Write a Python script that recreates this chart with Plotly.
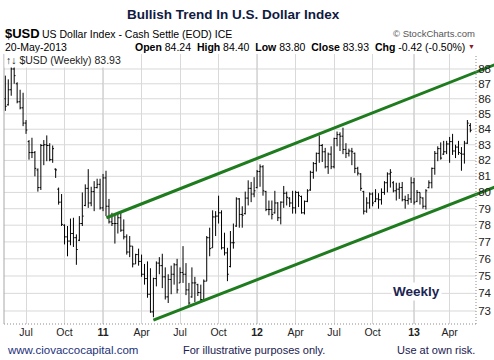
import plotly.graph_objects as go
import pandas as pd

# ---------------- data ----------------
first_week = "2010-05-17"   # weekly bars, Monday dated

opens = [
    86.0, 85.6, 86.6, 88.0, 87.0, 85.8, 85.4, 84.4, 83.2, 82.5,
    82.5, 81.4, 80.3, 82.95, 83.0, 82.95, 82.05, 81.45, 80.2, 79.4,
    78.0, 77.3, 77.05, 77.5, 77.25, 77.1, 78.1, 79.2, 80.25, 79.35,
    80.05, 80.3, 80.5, 79.05, 80.9, 79.15, 78.2, 78.1, 78.1, 78.45,
    77.7, 77.3, 76.4, 76.75, 75.7, 76.25, 75.85, 75.1, 74.85, 73.95,
    72.95, 74.85, 75.75, 75.6, 74.95, 73.8, 74.8, 75.1, 75.65, 74.6,
    75.2, 75.1, 74.2, 73.8, 74.6, 74.5, 74.05, 73.65, 74.7, 77.25,
    76.65, 78.5, 78.55, 78.75, 76.65, 76.35, 75.55, 76.95, 77.95, 79.6,
    78.65, 78.7, 79.65, 80.25, 79.9, 80.3, 81.3, 81.6, 80.05, 78.95,
    78.95, 78.75, 79.35, 78.45, 79.4, 79.95, 79.65, 79.35, 79.05, 80.0,
    79.75, 78.75, 79.45, 80.15, 81.25, 81.8, 82.45, 82.95, 82.55, 81.6,
    82.4, 81.6, 83.4, 83.65, 83.55, 82.7, 82.45, 82.6, 82.45, 81.5,
    81.15, 80.05, 78.85, 79.35, 79.9, 79.45, 79.6, 79.55, 80.0, 80.6,
    81.15, 80.6, 80.1, 80.2, 80.3, 79.55, 79.5, 79.6, 80.6, 79.45,
    80.0, 79.65, 79.15, 80.3, 80.6, 81.5, 82.45, 82.75, 82.4, 82.55,
    83.05, 83.2, 82.6, 82.85, 82.45, 82.4, 83.1, 84.24]

highs = [
    87.55, 87.3, 88.3, 88.2, 87.1, 86.6, 86.4, 84.6, 83.3, 83.45,
    82.6, 81.5, 83.05, 83.3, 83.6, 83.1, 82.95, 81.5, 80.3, 79.9,
    78.05, 77.95, 78.4, 78.45, 77.45, 78.55, 80.0, 80.5, 81.45, 80.35,
    80.7, 80.85, 80.85, 81.15, 81.35, 79.6, 78.75, 78.65, 78.7, 78.85,
    78.35, 77.45, 77.35, 76.75, 76.3, 76.6, 76.25, 75.7, 75.85, 75.45,
    74.9, 75.85, 76.1, 76.3, 75.5, 75.1, 75.6, 75.75, 76.0, 75.5,
    76.75, 75.75, 74.6, 75.5, 74.95, 74.55, 74.5, 74.8, 77.35, 77.85,
    78.9, 78.85, 79.8, 78.9, 77.55, 76.65, 77.65, 78.1, 79.7, 79.65,
    79.15, 80.05, 80.75, 80.65, 80.95, 81.4, 81.75, 81.7, 80.1, 79.5,
    79.5, 80.1, 79.4, 79.45, 80.4, 80.05, 79.7, 80.1, 80.1, 80.05,
    79.8, 79.5, 80.2, 81.35, 81.9, 82.5, 83.6, 83.05, 82.8, 82.5,
    82.9, 83.45, 83.85, 83.8, 84.1, 83.1, 82.75, 82.8, 82.5, 81.6,
    81.2, 80.1, 79.7, 80.0, 80.0, 80.2, 79.95, 80.25, 80.7, 81.25,
    81.45, 80.7, 80.6, 80.6, 80.65, 79.8, 79.9, 80.95, 80.9, 80.15,
    80.0, 79.7, 80.2, 80.75, 81.55, 82.6, 82.9, 83.15, 83.25, 83.25,
    83.5, 83.7, 83.0, 83.25, 82.85, 83.25, 84.6, 84.40]

lows = [
    85.2, 85.55, 86.2, 87.0, 85.7, 85.3, 84.2, 83.7, 82.05, 82.15,
    81.0, 80.05, 80.15, 81.7, 81.95, 81.95, 81.85, 80.9, 79.25, 77.95,
    76.85, 76.15, 76.8, 76.7, 75.65, 77.05, 77.95, 79.15, 79.05, 79.15,
    78.85, 80.25, 78.95, 78.85, 78.55, 78.1, 77.95, 76.9, 77.5, 77.6,
    77.15, 76.25, 76.1, 75.5, 75.7, 75.6, 74.95, 74.5, 73.75, 72.9,
    72.65, 74.4, 75.1, 74.3, 73.65, 73.45, 73.95, 74.5, 74.0, 74.6,
    74.6, 73.9, 73.35, 73.75, 73.5, 73.85, 73.55, 73.55, 74.7, 76.15,
    76.65, 77.35, 78.1, 76.55, 76.2, 74.7, 75.5, 76.6, 77.9, 77.85,
    77.85, 78.65, 79.2, 79.4, 79.7, 80.25, 80.35, 79.8, 78.85, 78.6,
    78.35, 78.7, 78.25, 78.05, 79.05, 79.2, 79.1, 78.7, 78.7, 79.1,
    78.7, 78.65, 79.4, 80.1, 80.85, 81.3, 81.85, 81.9, 81.5, 81.15,
    81.45, 81.5, 82.9, 82.6, 82.4, 82.15, 82.25, 81.7, 81.2, 81.05,
    80.1, 78.65, 78.75, 79.0, 79.15, 79.4, 79.0, 79.25, 79.85, 80.0,
    80.3, 80.0, 79.5, 79.6, 79.45, 79.0, 79.25, 79.35, 79.25, 79.4,
    79.25, 79.0, 78.95, 80.25, 80.25, 81.1, 81.95, 82.05, 82.35, 82.4,
    81.85, 82.35, 82.15, 82.35, 81.35, 81.8, 83.05, 83.80]

closes = [
    85.5, 86.6, 88.0, 87.55, 85.8, 85.4, 84.4, 83.95, 82.5, 82.5,
    81.5, 80.3, 82.95, 83.0, 82.95, 82.05, 82.75, 81.4, 79.4, 78.05,
    77.3, 77.05, 77.5, 77.25, 76.55, 78.1, 78.55, 80.25, 79.35, 80.05,
    80.3, 80.5, 79.05, 80.9, 79.15, 78.2, 78.1, 78.1, 78.45, 77.7,
    77.3, 76.4, 76.75, 75.7, 76.25, 75.85, 75.1, 74.85, 73.95, 72.95,
    74.85, 75.75, 75.6, 74.95, 73.8, 74.8, 75.1, 75.65, 74.2, 75.2,
    75.1, 74.2, 73.45, 74.6, 74.6, 74.05, 73.65, 74.7, 77.25, 76.6,
    78.5, 78.55, 78.75, 76.65, 76.35, 75.1, 76.95, 76.95, 79.6, 78.65,
    78.6, 79.65, 80.25, 79.9, 80.1, 81.3, 81.6, 80.1, 78.95, 78.95,
    78.65, 79.35, 78.45, 79.4, 79.95, 79.7, 79.35, 79.05, 80.0, 79.8,
    78.75, 79.45, 80.1, 81.25, 81.8, 82.45, 82.95, 82.55, 81.6, 82.4,
    81.6, 83.4, 83.65, 83.55, 82.7, 82.45, 82.6, 82.55, 81.5, 81.2,
    80.25, 78.85, 79.35, 79.9, 79.35, 79.6, 79.55, 80.0, 80.6, 81.15,
    81.25, 80.1, 80.2, 80.3, 79.55, 79.5, 79.6, 80.6, 79.4, 80.0,
    79.7, 79.15, 80.1, 80.6, 81.5, 82.45, 82.75, 82.15, 82.55, 83.05,
    83.2, 82.6, 82.85, 82.5, 82.4, 83.1, 84.4, 83.93]

weeks = pd.date_range(first_week, periods=len(closes), freq="7D")

tick_dates = ["2010-07-05", "2010-10-04", "2011-01-03", "2011-04-04",
              "2011-07-04", "2011-10-03", "2012-01-02", "2012-04-02",
              "2012-07-02", "2012-10-01", "2013-01-07", "2013-04-01"]
tick_labels = ["Jul", "Oct", "<b>11</b>", "Apr", "Jul", "Oct", "<b>12</b>",
               "Apr", "Jul", "Oct", "<b>13</b>", "Apr"]
year_dates = ["2011-01-03", "2012-01-02", "2013-01-07"]
price_ticks = [73, 74, 75, 76, 77, 78, 79, 80, 81, 82, 83, 84, 85, 86, 87, 88]

upper_dates = ["2011-01-11", "2013-07-20"]
upper_vals = [78.45, 88.33]
lower_dates = ["2011-05-02", "2013-07-20"]
lower_vals = [72.49, 80.37]

# ---------------- figure ----------------
FONT = "Liberation Sans, Arial, sans-serif"
GRID = "#d9d9d9"
GRID_RIGHT = (476 - 4) / 490.0   # gridlines stop before price labels

fig = go.Figure()
fig.add_trace(go.Ohlc(
    x=weeks, open=opens, high=highs, low=lows, close=closes,
    increasing=dict(line=dict(color="#000000", width=1)),
    decreasing=dict(line=dict(color="#000000", width=1)),
    tickwidth=0.45, hoverinfo="skip"))
for d, v in ((upper_dates, upper_vals), (lower_dates, lower_vals)):
    fig.add_trace(go.Scatter(x=d, y=v, mode="lines",
                             line=dict(color="#1e7b1e", width=3),
                             hoverinfo="skip"))

shapes = []
for v in price_ticks:
    shapes.append(dict(type="line", xref="paper", yref="y", x0=0, x1=GRID_RIGHT,
                       y0=v, y1=v, line=dict(color=GRID, width=1), layer="below"))
for d in year_dates:
    shapes.append(dict(type="line", xref="x", yref="paper", x0=d, x1=d,
                       y0=0, y1=1, line=dict(color="#b5b5b5", width=1), layer="below"))
shapes.append(dict(type="line", xref="paper", yref="paper", x0=0, x1=GRID_RIGHT,
                   y0=0, y1=0, line=dict(color="#8c8c8c", width=1, dash="1px,2px")))
shapes.append(dict(type="line", xref="paper", yref="paper", x0=GRID_RIGHT, x1=GRID_RIGHT,
                   y0=0, y1=1, line=dict(color="#8c8c8c", width=1, dash="1px,2px")))
shapes.append(dict(type="line", xref="paper", yref="paper", x0=0, x1=0,
                   y0=0, y1=1, line=dict(color="#a8a8a8", width=1)))

NB = "\u00a0"
ohlc_text = (f"<b>Open</b> {opens[-1]:.2f}{NB}{NB}<b>High</b> {highs[-1]:.2f}{NB}{NB}"
             f"<b>Low</b> {lows[-1]:.2f}{NB}{NB}<b>Close</b> {closes[-1]:.2f}{NB}{NB}"
             f"<b>Chg</b> -0.42 (-0.50%)")


def px(x):
    return (x - 4) / 490.0


def py(y):
    return (324 - y) / 270.0


def ann(text, x, y, xanchor, size, color="#000000", bg=None):
    d = dict(text=text, x=px(x), y=py(y), xref="paper", yref="paper",
             xanchor=xanchor, yanchor="middle", showarrow=False,
             font=dict(family=FONT, size=size, color=color))
    if bg:
        d["bgcolor"] = bg
    return d


annotations = [
    ann("<b>Bullish Trend In U.S. Dollar Index</b>", 233.5, 14, "center", 13.5, "#111a3f"),
    ann("<b>$USD</b>", 3, 33, "left", 13),
    ann("US Dollar Index - Cash Settle (EOD) ICE", 40, 34, "left", 10.5),
    ann("\u00a9 StockCharts.com", 477, 34, "right", 9.5, "#555555"),
    ann("20-May-2013", 3, 46.5, "left", 10.5),
    ann(ohlc_text, 467, 46.5, "right", 10.5),
    ann("\u25bc", 471.5, 46.5, "center", 7, "#8b1a2a"),
    ann(f"\u2191\u2193 $USD (Weekly) {closes[-1]:.2f}", 4, 60, "left", 10.5, "#222222", "white"),
    ann("<b>Weekly</b>", 416, 291, "center", 13.5, "#1c2552", "white"),
    ann("www.ciovaccocapital.com", 5, 350, "left", 11.5, "#23307a"),
    ann("For illustrative purposes only.", 254, 350, "center", 11, "#1a2050"),
    ann("Use at own risk.", 477, 350, "right", 11, "#1a2050"),
]

fig.update_layout(
    width=494, height=360, autosize=False,
    margin=dict(l=4, r=0, t=54, b=36, pad=0),
    paper_bgcolor="white", plot_bgcolor="white",
    showlegend=False,
    font=dict(family=FONT, size=11, color="#222222"),
    xaxis=dict(type="date", range=["2010-05-13 22:00", "2013-07-14 22:00"],
               tickvals=tick_dates, ticktext=tick_labels,
               showgrid=True, gridcolor=GRID, gridwidth=1,
               ticks="", showline=False, zeroline=False,
               tickfont=dict(family=FONT, size=10.5, color="#222222"),
               rangeslider=dict(visible=False), fixedrange=True),
    yaxis=dict(type="log", side="right", range=[1.85896, 1.94951],
               tickvals=price_ticks, ticktext=[str(v) for v in price_ticks],
               showgrid=False, ticks="", showline=False, zeroline=False,
               ticklabelposition="inside",
               tickfont=dict(family=FONT, size=11.5, color="#222222"),
               fixedrange=True),
    shapes=shapes,
    annotations=annotations,
)

fig.write_html("out.html", config={"displayModeBar": False},
               post_script="document.body.style.margin='0';")
